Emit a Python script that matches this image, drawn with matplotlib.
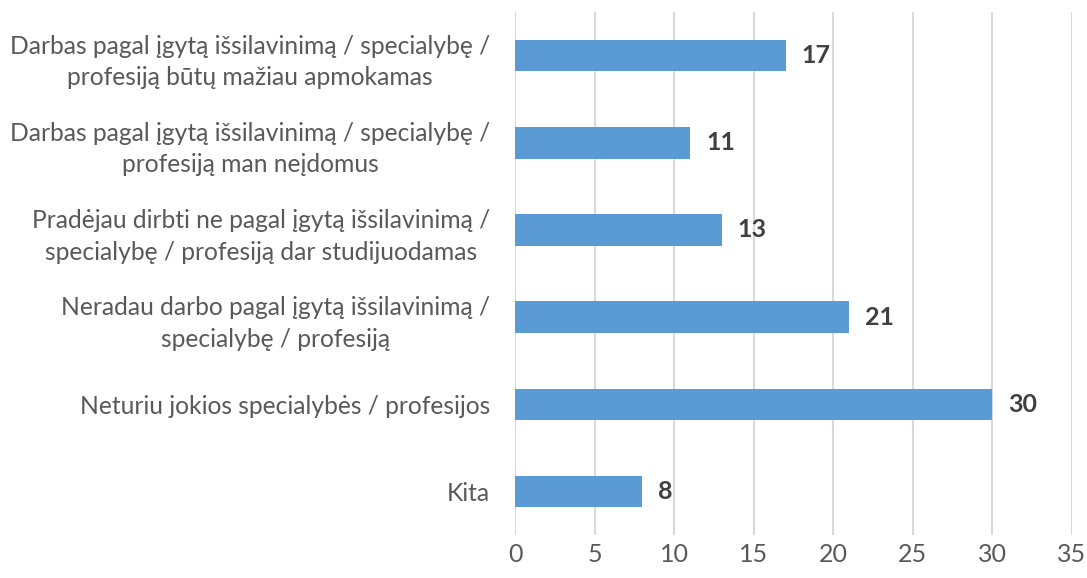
import matplotlib.pyplot as plt
import numpy as np

categories = [
    "Darbas pagal įgytą išsilavinimą / specialybę /\nprofesiją būtų mažiau apmokamas",
    "Darbas pagal įgytą išsilavinimą / specialybę /\nprofesiją man neįdomus",
    "Pradėjau dirbti ne pagal įgytą išsilavinimą /\nspecialybę / profesiją dar studijuodamas",
    "Neradau darbo pagal įgytą išsilavinimą /\nspecialybę / profesiją",
    "Neturiu jokios specialybės / profesijos",
    "Kita",
]
values = [17, 11, 13, 21, 30, 8]
xticks = [0, 5, 10, 15, 20, 25, 30, 35]

plt.rcParams['font.family'] = ['Lato', 'DejaVu Sans']

fig = plt.figure(figsize=(10.87, 5.78), dpi=100)
ax = fig.add_axes([0.4738, 0.0744, 0.5124, 0.9046])

y = np.arange(len(categories))
ax.barh(y, values, height=0.36, color='#5B9BD5', zorder=3)

for yi, v in zip(y, values):
    ax.text(v + 1.0, yi, str(v), va='center', ha='left',
            fontsize=18, fontweight='bold', color='#404040')

ax.set_xlim(0, 35)
ax.set_ylim(len(categories) - 0.5, -0.5)
ax.set_xticks(xticks)
ax.set_yticks(y)
ax.set_yticklabels(categories, fontsize=17.7, color='#595959',
                   linespacing=1.45, multialignment='center')
ax.tick_params(axis='x', labelsize=18, labelcolor='#595959', length=0, pad=6)
ax.tick_params(axis='y', length=0, pad=18)
ax.grid(axis='x', color='#D9D9D9', linewidth=1.5, zorder=0)
for s in ax.spines.values():
    s.set_visible(False)

fig.savefig('out.png', dpi=100)
